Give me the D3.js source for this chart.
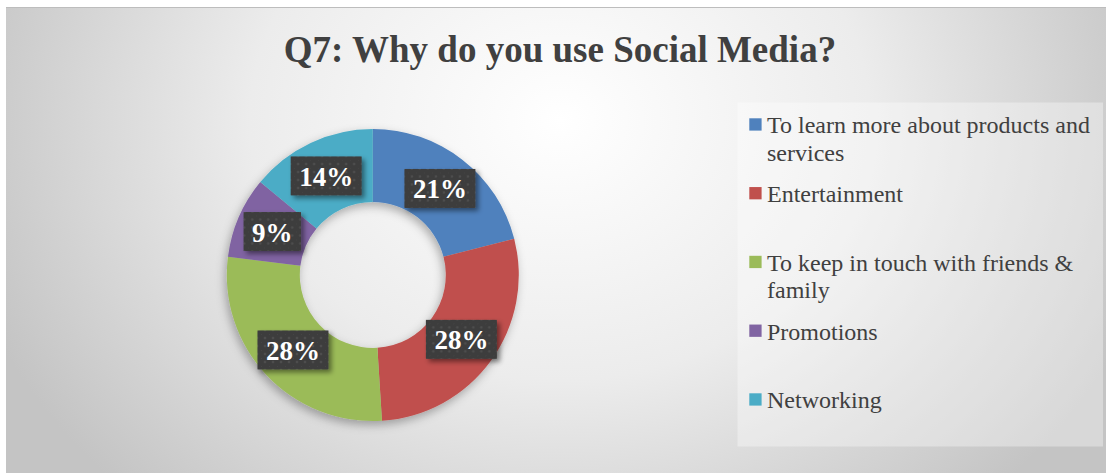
<!DOCTYPE html>
<html>
<head>
<meta charset="utf-8">
<script src="https://cdn.jsdelivr.net/npm/d3@7/dist/d3.min.js"></script>
<style>
  html, body { margin: 0; padding: 0; background: #ffffff; }
  svg { display: block; }
  text { font-family: "Liberation Serif", "Times New Roman", Times, serif; }
</style>
</head>
<body>
<svg id="chart" width="1106" height="473"></svg>
<script>
// Survey answers: reasons for using social media (share of respondents)
const categories = [
  "To learn more about products and services",
  "Entertainment",
  "To keep in touch with friends & family",
  "Promotions",
  "Networking"
];
const values = [21, 28, 28, 9, 14];
const colors = ["#4f81bd", "#c0504d", "#9bbb59", "#8064a2", "#4bacc6"];
const title = "Q7: Why do you use Social Media?";

const W = 1106, H = 473;
const svg = d3.select("#chart");
const defs = svg.append("defs");

// Soft grey radial backdrop of the chart area
const bg = defs.append("radialGradient")
  .attr("id", "bgGrad")
  .attr("gradientUnits", "userSpaceOnUse")
  .attr("cx", 0).attr("cy", 0).attr("r", 1)
  .attr("gradientTransform", "translate(560,120) scale(620,520)");
bg.append("stop").attr("offset", 0).attr("stop-color", "#ffffff");
bg.append("stop").attr("offset", 0.5).attr("stop-color", "#ececec");
bg.append("stop").attr("offset", 1).attr("stop-color", "#c4c4c4");

// Shadow under the ring
const ringShadow = defs.append("filter").attr("id", "ringShadow")
  .attr("x", "-20%").attr("y", "-20%").attr("width", "140%").attr("height", "140%");
ringShadow.append("feDropShadow")
  .attr("dx", -2).attr("dy", 4).attr("stdDeviation", 5)
  .attr("flood-color", "#000").attr("flood-opacity", 0.3);

// Shadow under the value badges
const badgeShadow = defs.append("filter").attr("id", "badgeShadow")
  .attr("x", "-30%").attr("y", "-30%").attr("width", "160%").attr("height", "160%");
badgeShadow.append("feDropShadow")
  .attr("dx", 3).attr("dy", 3).attr("stdDeviation", 2.5)
  .attr("flood-color", "#000").attr("flood-opacity", 0.45);

// Dotted dark fill for the value badges
const dots = defs.append("pattern")
  .attr("id", "dots").attr("patternUnits", "userSpaceOnUse")
  .attr("width", 8).attr("height", 8);
dots.append("rect").attr("width", 8).attr("height", 8).attr("fill", "#3d3d3d");
dots.append("circle").attr("cx", 4).attr("cy", 4).attr("r", 1.3).attr("fill", "#4e4e4e");
dots.append("circle").attr("cx", 0).attr("cy", 0).attr("r", 0.9).attr("fill", "#474747");

// Chart area
svg.append("rect")
  .attr("x", 6).attr("y", 7).attr("width", W - 6).attr("height", H - 7)
  .attr("fill", "url(#bgGrad)");
svg.append("line")
  .attr("x1", 6).attr("x2", W).attr("y1", 7.5).attr("y2", 7.5)
  .attr("stroke", "#bdbdbd").attr("stroke-width", 1);

// Title
svg.append("text")
  .attr("x", 560).attr("y", 61.5)
  .attr("text-anchor", "middle")
  .attr("font-size", 37).attr("font-weight", "bold")
  .attr("fill", "#404040")
  .text(title);

// Doughnut
const cx = 372.8, cy = 275, rOuter = 146, rInner = 73;
const total = d3.sum(values);
const pie = d3.pie().sort(null).value(d => d)(values);
const arc = d3.arc().innerRadius(rInner).outerRadius(rOuter);

const ring = svg.append("g")
  .attr("transform", `translate(${cx},${cy})`);
ring.append("g").attr("filter", "url(#ringShadow)")
  .selectAll("path").data(pie).join("path")
  .attr("d", arc)
  .attr("fill", (d, i) => colors[i]);

// Value badges at slice centroids
const fmt = v => Math.round(v / total * 100) + "%";
const badgeFont = 27;
const badges = ring.selectAll("g.badge").data(pie).join("g")
  .attr("class", "badge")
  .attr("transform", d => `translate(${arc.centroid(d)})`);
badges.each(function (d) {
  const g = d3.select(this);
  const t = g.append("text")
    .attr("text-anchor", "middle")
    .attr("y", 10)
    .attr("font-size", badgeFont).attr("font-weight", "bold")
    .attr("fill", "#ffffff")
    .text(fmt(d.value));
  const w = t.node().getComputedTextLength() + 17;
  g.insert("rect", "text")
    .attr("x", -w / 2).attr("y", -19.5)
    .attr("width", w).attr("height", 39)
    .attr("fill", "url(#dots)")
    .attr("filter", "url(#badgeShadow)");
});

// Legend
const lg = svg.append("g");
lg.append("rect")
  .attr("x", 737.5).attr("y", 102.5).attr("width", 365.5).attr("height", 344)
  .attr("fill", "#ffffff").attr("fill-opacity", 0.35);

const legendX = 749.3, textX = 767, firstBase = 133.3, step = 68.75, lineH = 27.3;
const maxW = 330;
categories.forEach((name, i) => {
  const base = firstBase + i * step;
  lg.append("rect")
    .attr("x", legendX).attr("y", base - 15)
    .attr("width", 12.3).attr("height", 12.3)
    .attr("fill", colors[i]);
  const txt = lg.append("text")
    .attr("x", textX).attr("y", base)
    .attr("font-size", 24).attr("fill", "#404040");
  // wrap words onto lines no wider than maxW
  const words = name.split(" ");
  let line = [];
  let tspan = txt.append("tspan").attr("x", textX).attr("y", base);
  let lineNo = 0;
  words.forEach(w => {
    line.push(w);
    tspan.text(line.join(" "));
    if (tspan.node().getComputedTextLength() > maxW && line.length > 1) {
      line.pop();
      tspan.text(line.join(" "));
      line = [w];
      lineNo += 1;
      tspan = txt.append("tspan").attr("x", textX).attr("y", base + lineNo * lineH).text(w);
    }
  });
});
</script>
</body>
</html>
